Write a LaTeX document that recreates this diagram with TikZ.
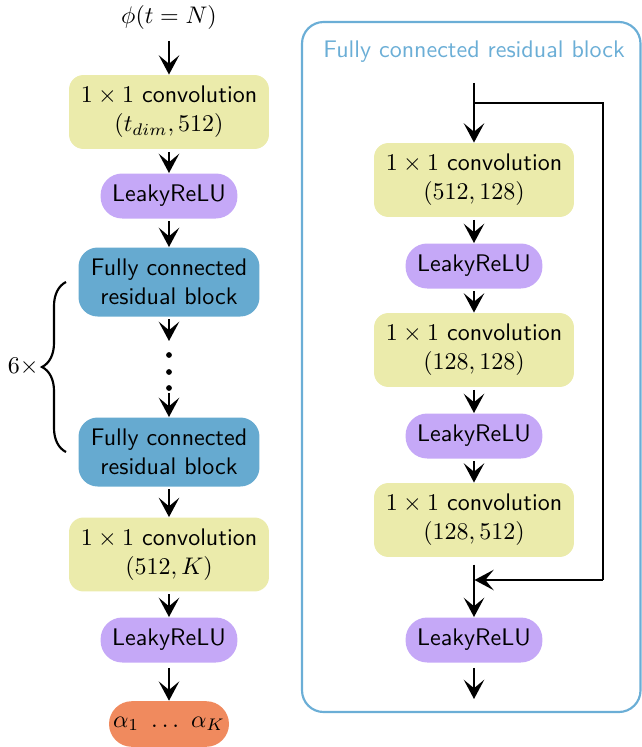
\documentclass[tikz,border=0pt]{standalone}
\usetikzlibrary{arrows.meta,decorations.pathreplacing}
\definecolor{convc}{RGB}{235,235,171}
\definecolor{reluc}{RGB}{197,168,247}
\definecolor{fcc}{RGB}{102,170,208}
\definecolor{outc}{RGB}{240,138,94}
\definecolor{panelc}{RGB}{107,174,214}
\begin{document}
\begin{tikzpicture}[x=0.41667pt,y=-0.41667pt, font=\sffamily,
  box/.style={align=center, inner sep=0pt},
  conv/.style={box, fill=convc, rounded corners=6pt, minimum width=83.3pt, minimum height=30.8pt},
  relu/.style={box, fill=reluc, rounded corners=9pt, minimum width=57pt, minimum height=18.75pt},
  fcb/.style={box, fill=fcc, rounded corners=8pt, minimum width=75.4pt, minimum height=28.75pt},
  outb/.style={box, fill=outc, rounded corners=9.5pt, minimum width=50pt, minimum height=19pt},
  arr/.style={line width=1.2pt, -{Stealth[length=8pt,width=8.5pt,inset=3.5pt]}},
  plain/.style={line width=1.2pt},
  dot/.style={circle, fill=black, inner sep=0pt, minimum size=2.4pt}
]
\useasboundingbox (0,0) rectangle (641,747);

% ---------- left column ----------
\node (phi) at (169,18) {$\phi(t=N)$};
\node[conv] (c1) at (169,112) {$1\times1$ convolution\\$(t_{dim},512)$};
\node[relu] (r1) at (169,196) {LeakyReLU};
\node[fcb] (f1) at (169,282) {Fully connected\\residual block};
\coordinate (da) at (169,341);
\node[dot] (d1) at (169,355) {};
\node[dot] (d2) at (169,372) {};
\node[dot] (d3) at (169,388) {};
\coordinate (db) at (169,393);
\node[fcb] (f2) at (169,452) {Fully connected\\residual block};
\node[conv] (c2) at (169,554.5) {$1\times1$ convolution\\$(512,K)$};
\node[relu] (r2) at (169,640) {LeakyReLU};
\node[outb] (o) at (169,724) {$\alpha_1\ \ldots\ \alpha_K$};

\draw[arr] ([yshift=-1pt]phi.south) -- (c1);
\draw[arr] ([yshift=-1pt]c1.south) -- (r1);
\draw[arr] ([yshift=-1pt]r1.south) -- (f1);
\draw[arr] ([yshift=-1pt]f1.south) -- (da);
\draw[arr] (db) -- (f2);
\draw[arr] ([yshift=-1pt]f2.south) -- (c2);
\draw[arr] ([yshift=-1pt]c2.south) -- (r2);
\draw[arr] ([yshift=-2pt]r2.south) -- (o);

\coordinate (bb) at (66,452);
\coordinate (bt) at (66,282);
\draw[line width=0.9pt, decorate, decoration={brace, amplitude=10pt}] (bb) -- (bt);
\node[anchor=east, inner sep=0pt] (six) at (39,367) {$6\times$};

% ---------- right panel ----------
\draw[panelc, line width=0.9pt, rounded corners=9pt] (302,22) rectangle (640.5,712);
\node[text=panelc] (title) at (474,52) {Fully connected residual block};

\coordinate (in) at (474,83);
\coordinate (split) at (474,103);
\coordinate (sr) at (603,103);
\coordinate (mr) at (603,580);
\coordinate (merge) at (474.5,580);
\node[conv] (ca) at (474,180) {$1\times1$ convolution\\$(512,128)$};
\node[relu] (ra) at (474,266) {LeakyReLU};
\node[conv] (cb) at (474,350) {$1\times1$ convolution\\$(128,128)$};
\node[relu] (rb) at (474,436) {LeakyReLU};
\node[conv] (cc) at (474,520) {$1\times1$ convolution\\$(128,512)$};
\node[relu] (rc) at (474,640) {LeakyReLU};
\coordinate (end) at (474,699);

\draw[arr] (in) -- (ca);
\draw[arr] ([yshift=-1pt]ca.south) -- (ra);
\draw[arr] ([yshift=-1pt]ra.south) -- (cb);
\draw[arr] ([yshift=-1pt]cb.south) -- (rb);
\draw[arr] ([yshift=-1pt]rb.south) -- (cc);
\draw[arr] ([yshift=-3pt]cc.south) -- (rc);
\draw[arr] ([yshift=-2pt]rc.south) -- (end);
\draw[plain] (split) -- (sr) -- (mr);
\draw[arr] (mr) -- (merge);
\end{tikzpicture}
\end{document}
